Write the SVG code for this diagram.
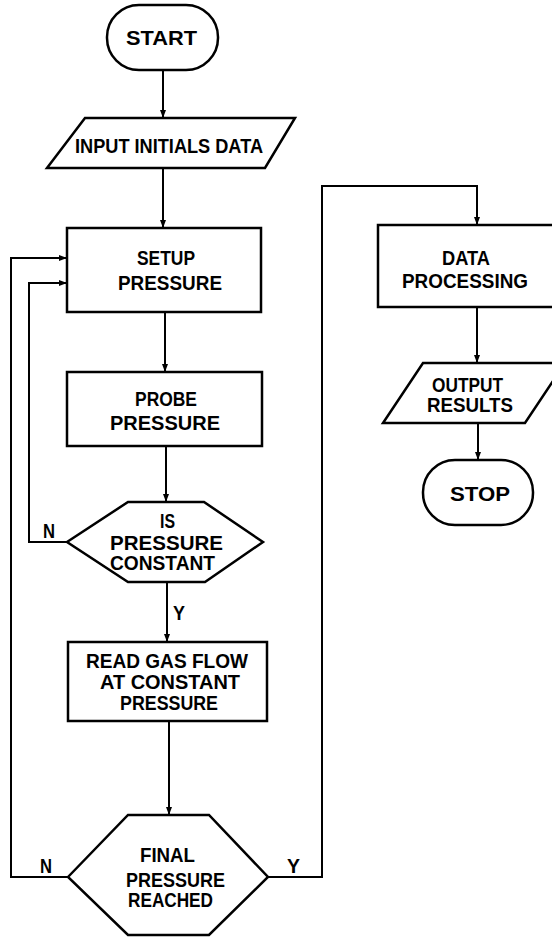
<svg xmlns="http://www.w3.org/2000/svg" width="552" height="937" viewBox="0 0 552 937">
<style>
.shape{fill:#fff;stroke:#000;stroke-width:2.5;stroke-linejoin:miter}
.conn{fill:none;stroke:#000;stroke-width:2}
text{font-family:"Liberation Sans",Arial,sans-serif;font-weight:bold;font-size:20px;fill:#000;text-anchor:middle}
</style>
<defs>
<marker id="ah" markerUnits="userSpaceOnUse" markerWidth="10" markerHeight="8" refX="8" refY="3.5" orient="auto">
<path d="M0,0.5 L8,3.5 L0,6.5 z" fill="#000"/>
</marker>
</defs>
<rect width="552" height="937" fill="#fff"/>
<g id="connectors">
<path class="conn" d="M163,70 V118" marker-end="url(#ah)"/>
<path class="conn" d="M163,168 V228" marker-end="url(#ah)"/>
<path class="conn" d="M165,312 V372" marker-end="url(#ah)"/>
<path class="conn" d="M166,446 V502" marker-end="url(#ah)"/>
<path class="conn" d="M167,582 V642" marker-end="url(#ah)"/>
<path class="conn" d="M169,721 V815" marker-end="url(#ah)"/>
<path class="conn" d="M67,542 H29 V283 H67" marker-end="url(#ah)"/>
<path class="conn" d="M68,877 H11 V258 H67" marker-end="url(#ah)"/>
<path class="conn" d="M268,877 H322 V186 H477 V225" marker-end="url(#ah)"/>
<path class="conn" d="M477,307 V363" marker-end="url(#ah)"/>
<path class="conn" d="M478,423 V460" marker-end="url(#ah)"/>
<text x="49" y="538" textLength="12" lengthAdjust="spacingAndGlyphs">N</text>
<text x="179" y="620" textLength="12" lengthAdjust="spacingAndGlyphs">Y</text>
<text x="46" y="873" textLength="12" lengthAdjust="spacingAndGlyphs">N</text>
<text x="293.5" y="873" textLength="13" lengthAdjust="spacingAndGlyphs">Y</text>
</g>
<g id="start">
<rect class="shape" x="107" y="5" width="111" height="65" rx="32" ry="32"/>
<text x="161.5" y="45" textLength="71" lengthAdjust="spacingAndGlyphs">START</text>
</g>
<g id="input">
<polygon class="shape" points="85,118 295,118 265,168 47,168"/>
<text x="169" y="153" textLength="188" lengthAdjust="spacingAndGlyphs">INPUT INITIALS DATA</text>
</g>
<g id="setup">
<rect class="shape" x="67" y="228" width="194" height="84"/>
<text x="166" y="265" textLength="58" lengthAdjust="spacingAndGlyphs">SETUP</text>
<text x="170" y="290" textLength="104" lengthAdjust="spacingAndGlyphs">PRESSURE</text>
</g>
<g id="probe">
<rect class="shape" x="67" y="372" width="195" height="74"/>
<text x="166" y="406" textLength="62" lengthAdjust="spacingAndGlyphs">PROBE</text>
<text x="165" y="430" textLength="110" lengthAdjust="spacingAndGlyphs">PRESSURE</text>
</g>
<g id="decision1">
<polygon class="shape" points="67,542 128,502 204,502 263,542 205,582 128,582"/>
<text x="167.5" y="528" textLength="15" lengthAdjust="spacingAndGlyphs">IS</text>
<text x="166.5" y="550" textLength="113" lengthAdjust="spacingAndGlyphs">PRESSURE</text>
<text x="162.5" y="570" textLength="105" lengthAdjust="spacingAndGlyphs">CONSTANT</text>
</g>
<g id="readflow">
<rect class="shape" x="68" y="642" width="199" height="79"/>
<text x="167" y="668" textLength="162" lengthAdjust="spacingAndGlyphs">READ GAS FLOW</text>
<text x="170" y="689" textLength="140" lengthAdjust="spacingAndGlyphs">AT CONSTANT</text>
<text x="169" y="710" textLength="98" lengthAdjust="spacingAndGlyphs">PRESSURE</text>
</g>
<g id="decision2">
<polygon class="shape" points="68,877 128,815 209,815 268,877 209,935 128,935"/>
<text x="167.5" y="862" textLength="55" lengthAdjust="spacingAndGlyphs">FINAL</text>
<text x="175.5" y="887" textLength="99" lengthAdjust="spacingAndGlyphs">PRESSURE</text>
<text x="170.5" y="907" textLength="85" lengthAdjust="spacingAndGlyphs">REACHED</text>
</g>
<g id="dataproc">
<rect class="shape" x="378" y="225" width="176" height="82"/>
<text x="466" y="265" textLength="48" lengthAdjust="spacingAndGlyphs">DATA</text>
<text x="465" y="288" textLength="126" lengthAdjust="spacingAndGlyphs">PROCESSING</text>
</g>
<g id="output">
<polygon class="shape" points="423,363 565,363 525,423 383,423"/>
<text x="467.5" y="392" textLength="71" lengthAdjust="spacingAndGlyphs">OUTPUT</text>
<text x="470" y="412" textLength="86" lengthAdjust="spacingAndGlyphs">RESULTS</text>
</g>
<g id="stop">
<rect class="shape" x="423" y="460" width="110" height="65" rx="32" ry="32"/>
<text x="480" y="501" textLength="60" lengthAdjust="spacingAndGlyphs">STOP</text>
</g>
</svg>
